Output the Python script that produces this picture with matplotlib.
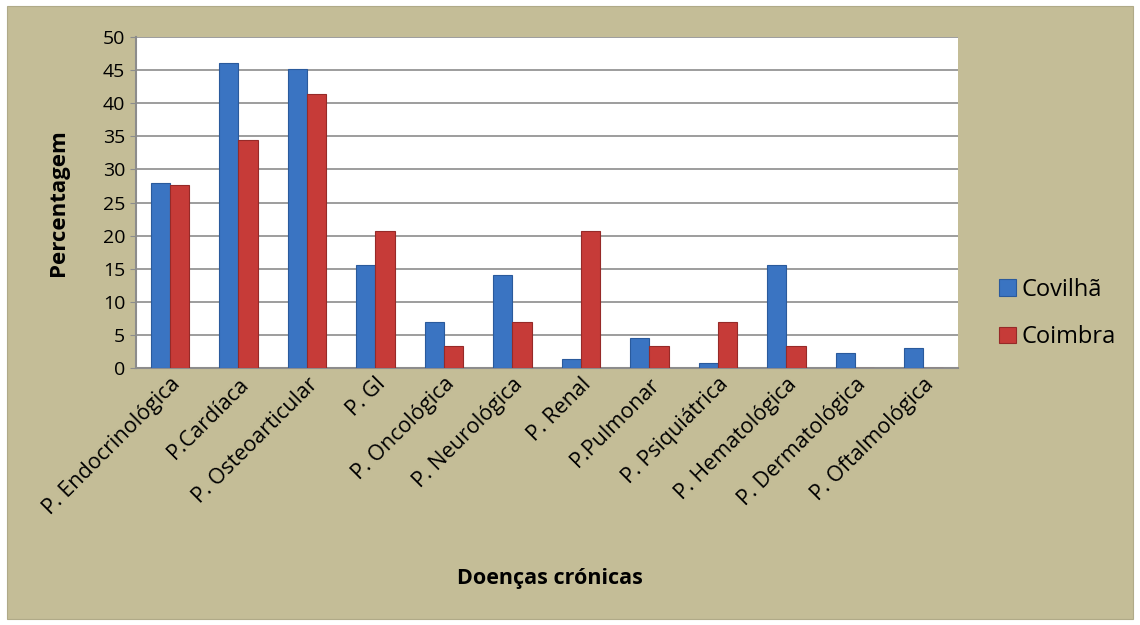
import numpy as np
import matplotlib.pyplot as plt
from matplotlib.patches import Rectangle

categorias = ["P. Endocrinológica", "P.Cardíaca", "P. Osteoarticular", "P. GI",
              "P. Oncológica", "P. Neurológica", "P. Renal", "P.Pulmonar",
              "P. Psiquiátrica", "P. Hematológica", "P. Dermatológica", "P. Oftalmológica"]
covilha = [27.9, 46.0, 45.2, 15.5, 6.9, 14.0, 1.4, 4.6, 0.7, 15.5, 2.3, 3.0]
coimbra = [27.6, 34.4, 41.4, 20.7, 3.4, 6.9, 20.7, 3.4, 6.9, 3.4, 0.0, 0.0]

bg = '#c4bd97'
plt.rcParams['font.family'] = ['Open Sans', 'DejaVu Sans']

fig = plt.figure(figsize=(11.4, 6.25), dpi=100)
fig.patch.set_facecolor('white')
fig.patches.append(Rectangle((0.006, 0.01), 0.988, 0.98, transform=fig.transFigure,
                             facecolor=bg, edgecolor='#b0aa88', lw=0.8, zorder=-1))

ax = fig.add_axes([0.119, 0.411, 0.721, 0.53])
ax.set_facecolor('white')

x = np.arange(len(categorias))
w = 0.28
ax.bar(x - w/2, covilha, w, color='#3a74c2', edgecolor='#2a5a9c', lw=0.8, zorder=3, label='Covilhã')
ax.bar(x + w/2, coimbra, w, color='#c63b38', edgecolor='#962a28', lw=0.8, zorder=3, label='Coimbra')

ax.set_xlim(-0.5, len(categorias) - 0.5)
ax.set_ylim(0, 50)
ax.set_yticks(range(0, 51, 5))
ax.yaxis.grid(True, color='#8c8c8c', lw=1.2, zorder=0)
ax.tick_params(axis='y', labelsize=14, length=4, color='#8c8c8c')
ax.tick_params(axis='x', labelsize=15.5, length=0, pad=4)
ax.set_xticks(x)
ax.set_xticklabels(categorias, rotation=45, ha='right', rotation_mode='anchor')
for s in ['top', 'right']:
    ax.spines[s].set_visible(False)
for s in ['left', 'bottom']:
    ax.spines[s].set_color('#8c8c8c')
    ax.spines[s].set_linewidth(1.5)

ax.set_ylabel('Percentagem', fontsize=16, fontweight='bold', labelpad=24)
fig.text(0.482, 0.066, 'Doenças crónicas', fontsize=15.5, fontweight='bold', ha='center')

ax.legend(loc='center left', bbox_to_anchor=(1.025, 0.165), frameon=False, fontsize=17,
          handlelength=0.7, handleheight=0.7, labelspacing=1.0, handletextpad=0.25)

plt.savefig('out.png', facecolor=fig.get_facecolor())
